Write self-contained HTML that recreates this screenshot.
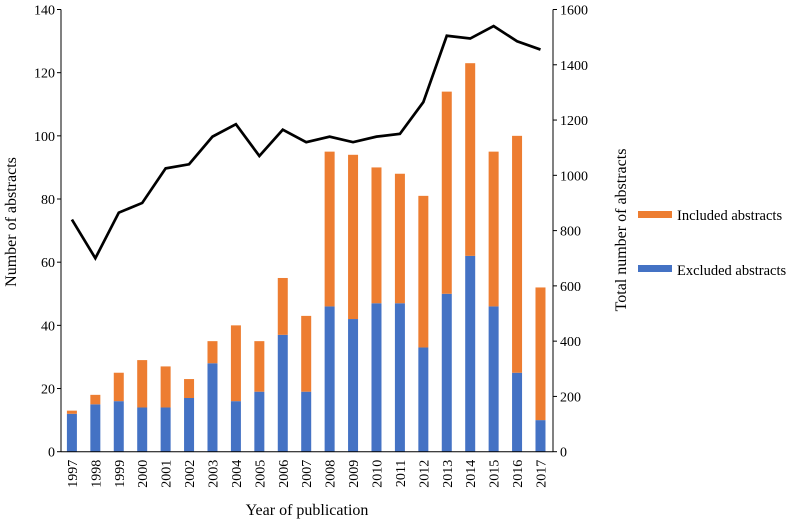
<!DOCTYPE html>
<html><head><meta charset="utf-8"><style>
body{margin:0;background:#fff;}
svg{font-family:"Liberation Serif",serif;}
</style></head><body>
<svg id="chart" width="797" height="521" xmlns="http://www.w3.org/2000/svg">
<g id="g"></g>
</svg>
<script>
const years=["1997","1998","1999","2000","2001","2002","2003","2004","2005","2006","2007","2008","2009","2010","2011","2012","2013","2014","2015","2016","2017"];
const excluded=[12,15,16,14,14,17,28,16,19,37,19,46,42,47,47,33,50,62,46,25,10];
const included=[1,3,9,15,13,6,7,24,16,18,24,49,52,43,41,48,64,61,49,75,42];
const totals=[840,700,865,900,1025,1040,1140,1185,1070,1165,1120,1140,1120,1140,1150,1265,1505,1495,1540,1485,1455];
const leftTicks=[0,20,40,60,80,100,120,140];
const rightTicks=[0,200,400,600,800,1000,1200,1400,1600];

const NS="http://www.w3.org/2000/svg";
const g=document.getElementById('g');
const L=61,R=553,T=9.5,B=451.7;
const yL=v=>B-(v/140)*(B-T);
const yR=v=>B-(v/1600)*(B-T);
const band=(R-L)/years.length;
const xC=i=>L+band*(i+0.5)-0.8;
function el(tag,attrs,text){const e=document.createElementNS(NS,tag);for(const k in attrs)e.setAttribute(k,attrs[k]);if(text!==undefined)e.textContent=text;g.appendChild(e);return e;}
const bw=10;
years.forEach((y,i)=>{
  let b=el('rect',{x:xC(i)-bw/2,y:yL(excluded[i]),width:bw,height:B-yL(excluded[i]),fill:'#4472C4'});
  
  
  let o=el('rect',{x:xC(i)-bw/2,y:yL(excluded[i]+included[i]),width:bw,height:yL(excluded[i])-yL(excluded[i]+included[i]),fill:'#ED7D31'});
  
  
  let t=el('text',{x:0,y:0,'font-size':14,'text-anchor':'end',transform:`translate(${xC(i)+5},${B+8}) rotate(-90)`},y);
  
  
});
let pts=totals.map((v,i)=>xC(i)+','+yR(v)).join(' ');
let ln=el('polyline',{points:pts,fill:'none',stroke:'#000','stroke-width':2.7,'stroke-linejoin':'miter'});


let a1=el('line',{x1:L,y1:T,x2:L,y2:B,stroke:'#000','stroke-width':1});

let a2=el('line',{x1:R,y1:T,x2:R,y2:B,stroke:'#000','stroke-width':1});

let a3=el('line',{x1:L,y1:B,x2:R,y2:B,stroke:'#000','stroke-width':1});

leftTicks.forEach(v=>{
  el('line',{x1:L-4,y1:yL(v),x2:L,y2:yL(v),stroke:'#000'});
  let t=el('text',{x:L-6,y:yL(v)+5,'font-size':14,'text-anchor':'end'},v);
  
});
rightTicks.forEach(v=>{
  el('line',{x1:R,y1:yR(v),x2:R+4,y2:yR(v),stroke:'#000'});
  let t=el('text',{x:R+7,y:yR(v)+5,'font-size':14,'text-anchor':'start'},v);
  
});
let yt=el('text',{x:0,y:0,'font-size':16,'text-anchor':'middle',transform:'translate(16,222) rotate(-90)'},'Number of abstracts');

let rt=el('text',{x:0,y:0,'font-size':16,'text-anchor':'middle',transform:'translate(626,230) rotate(-90)'},'Total number of abstracts');

let xt=el('text',{x:307,y:515,'font-size':16,'text-anchor':'middle'},'Year of publication');

let s1=el('rect',{x:638,y:211,width:34,height:7,fill:'#ED7D31'});

let l1=el('text',{x:677,y:220,'font-size':14.5},'Included abstracts');

let s2=el('rect',{x:638,y:265,width:34,height:7,fill:'#4472C4'});

let l2=el('text',{x:677,y:275,'font-size':14.5},'Excluded abstracts');

</script>
</body></html>
